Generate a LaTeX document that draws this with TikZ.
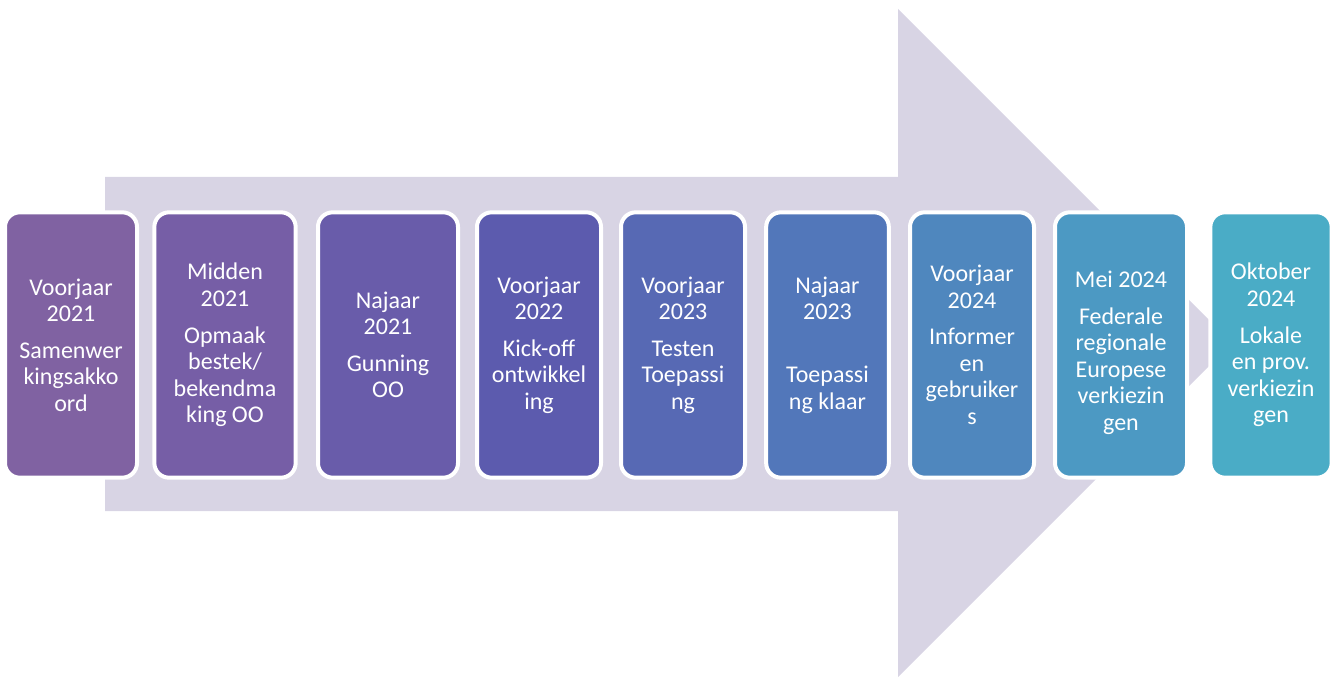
\documentclass[tikz,border=0pt]{standalone}
\usepackage{fontspec}
\setmainfont{Carlito}

% kleuren van de fasen
\definecolor{pijlkleur}{RGB}{216,212,228}
\definecolor{fasekleur1}{RGB}{128,98,162}
\definecolor{fasekleur2}{RGB}{118,94,166}
\definecolor{fasekleur3}{RGB}{105,92,170}
\definecolor{fasekleur4}{RGB}{92,91,174}
\definecolor{fasekleur5}{RGB}{87,105,180}
\definecolor{fasekleur6}{RGB}{82,119,186}
\definecolor{fasekleur7}{RGB}{79,135,190}
\definecolor{fasekleur8}{RGB}{76,153,195}
\definecolor{fasekleur9}{RGB}{74,172,198}

\begin{document}
\begin{tikzpicture}[x=0.75pt, y=-0.75pt]
    % Stijlen
    \tikzstyle{fase}=[draw=white, line width=3pt, rounded corners=11pt, minimum height=199pt, inner sep=0pt, align=center, text=white, font=\fontsize{18}{19.9}\selectfont]
    \tikzstyle{pijl}=[fill=pijlkleur, draw=none]

    \useasboundingbox (0,0) rectangle (1336,677);

    % Grote pijl op de achtergrond
    \fill[pijl] (105,177) -- (898,177) -- (898,9) -- (1232,343) -- (898,677) -- (898,511) -- (105,511) -- cycle;

    % Fasen van de planning
    \node[fase, fill=fasekleur1, minimum width=99pt] (fase1) at (71,345) {Voorjaar\\2021\\[7.5pt]Samenwer\\kingsakko\\ord};
    \node[fase, fill=fasekleur2, minimum width=106pt] (fase2) at (225,345) {Midden\\2021\\[7.5pt]Opmaak\\bestek/\\bekendma\\king OO};
    \node[fase, fill=fasekleur3, minimum width=105pt] (fase3) at (388,345) {Najaar\\2021\\[7.5pt]Gunning\\OO};
    \node[fase, fill=fasekleur4, minimum width=93pt] (fase4) at (539,345) {Voorjaar\\2022\\[7.5pt]Kick-off\\ontwikkel\\ing};
    \node[fase, fill=fasekleur5, minimum width=93pt] (fase5) at (683,345) {Voorjaar\\2023\\[7.5pt]Testen\\Toepassi\\ng};
    \node[fase, fill=fasekleur6, minimum width=92pt] (fase6) at (827.5,345) {Najaar\\2023\\[7.5pt]\mbox{}\\Toepassi\\ng klaar};
    \node[fase, fill=fasekleur7, minimum width=93pt] (fase7) at (972,345) {Voorjaar\\2024\\[7.5pt]Informer\\en\\gebruiker\\s};
    \node[fase, fill=fasekleur8, minimum width=99pt] (fase8) at (1121,345) {\rule{0pt}{24pt}Mei 2024\\[7.5pt]Federale\\regionale\\Europese\\verkiezin\\gen};
    \node[fase, fill=fasekleur9, minimum width=91pt] (fase9) at (1271,345) {Oktober\\2024\\[7.5pt]Lokale\\en prov.\\verkiezin\\gen};
\end{tikzpicture}
\end{document}
